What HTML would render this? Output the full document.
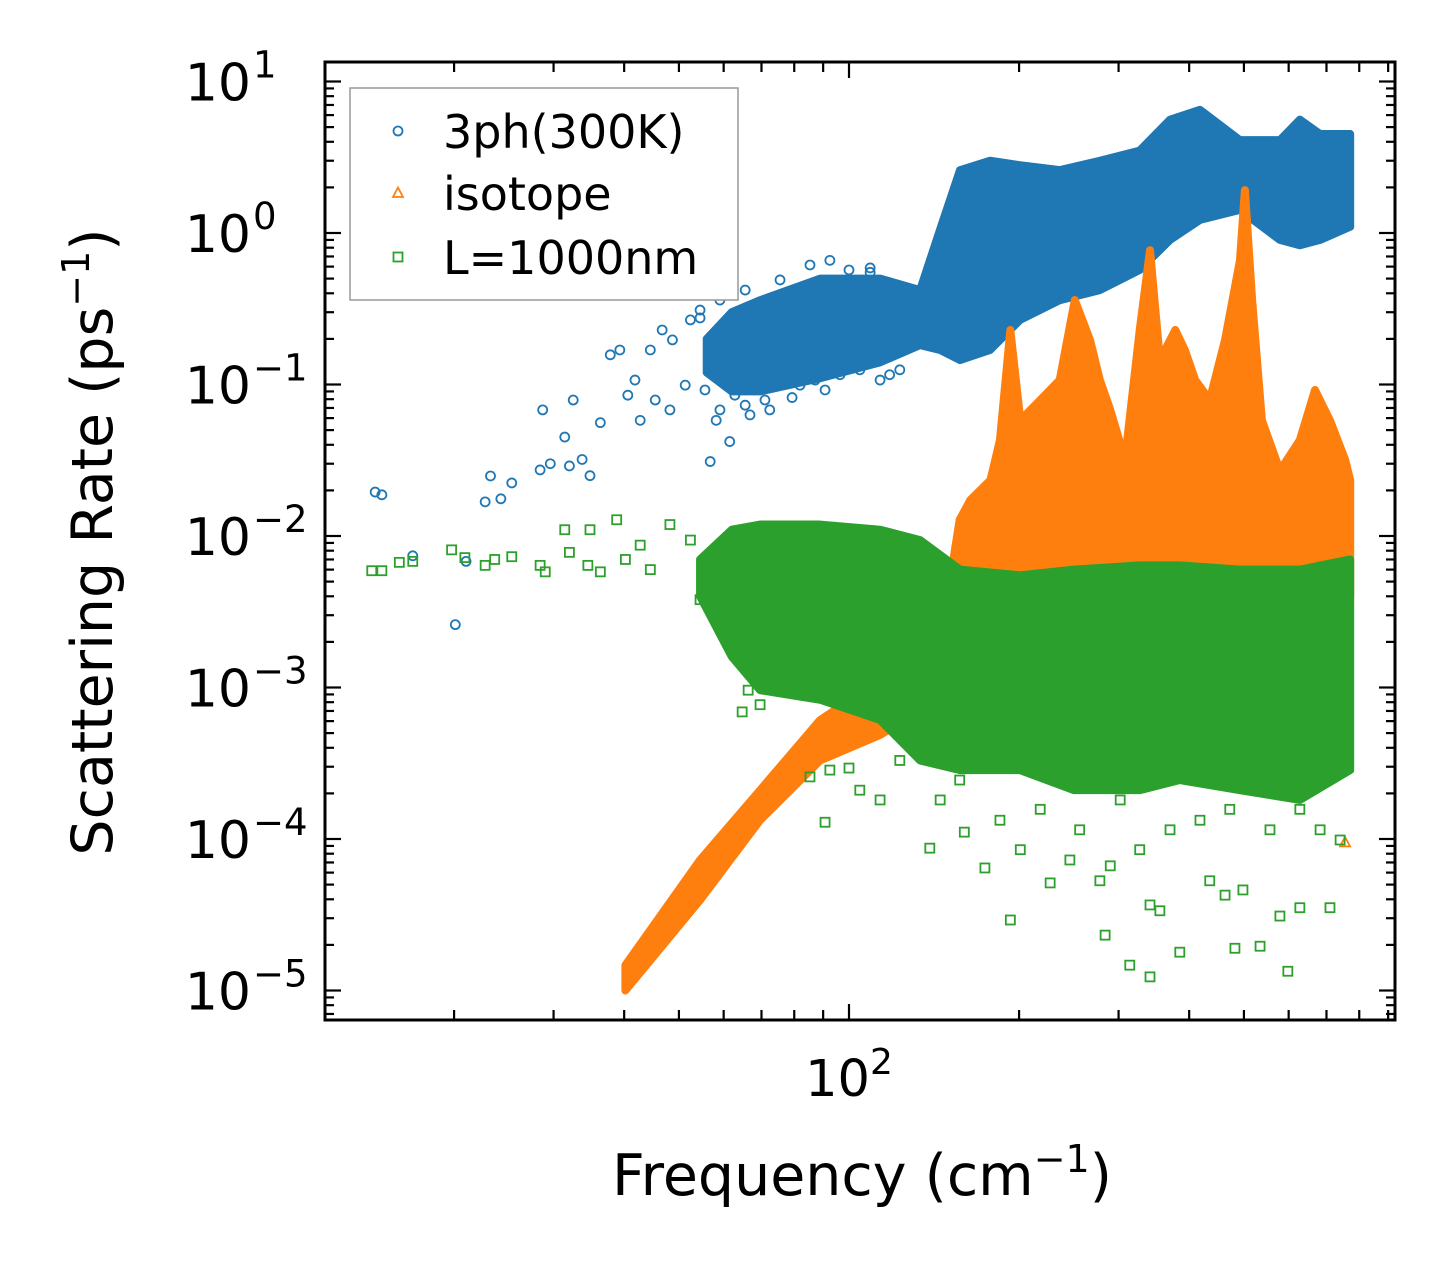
<!DOCTYPE html>
<html><head><meta charset="utf-8"><style>
html,body{margin:0;padding:0;background:#fff;}
svg{display:block;font-family:"DejaVu Sans","Liberation Sans",sans-serif;}
</style></head><body>
<svg id="chart" width="1455" height="1269" viewBox="0 0 1455 1269" xmlns="http://www.w3.org/2000/svg">
<g id="bands"></g>
<g id="marks"></g>
<g id="axes"></g>
<g id="legend"></g>
<text x="862" y="1195" font-size="57" text-anchor="middle">Frequency (cm<tspan dy="-23" font-size="38">−1</tspan><tspan dy="23">)</tspan></text>
<text transform="translate(112,542) rotate(-90)" font-size="57" text-anchor="middle">Scattering Rate (ps<tspan dy="-23" font-size="38">−1</tspan><tspan dy="23">)</tspan></text>
</svg>
<script>
// ---- data ----
const blueF=[14.5,14.9,16.9,20.1,21.0,22.7,23.2,24.2,25.3,28.4,28.7,29.6,31.4,32.5,32.0,33.7,34.8,36.3,37.8,39.3,40.6,41.8,42.7,44.5,45.4,46.7,48.2,48.7,51.3,52.4,54.5,56.8,58.2,61.5,65.5,72.4,79.3,90.7,100,109,118,55.6,59.1,62.8,66.8,71.0,75.5,81.9,87.1,96.4,104.5,113.5,123,54.5,59.1,65.5,75.5,85.3,92.5,100,109];
const blueR=[0.0195,0.0187,0.0074,0.0026,0.0068,0.0168,0.0249,0.0176,0.0224,0.0273,0.068,0.030,0.045,0.079,0.029,0.032,0.025,0.056,0.157,0.169,0.085,0.107,0.058,0.169,0.079,0.229,0.068,0.197,0.099,0.267,0.275,0.031,0.058,0.042,0.073,0.068,0.082,0.092,0.45,0.55,0.116,0.092,0.068,0.085,0.063,0.079,0.107,0.099,0.107,0.116,0.125,0.107,0.125,0.31,0.361,0.42,0.49,0.615,0.66,0.57,0.588];
const blueBandF=[56,62,69.6,88.9,113.5,133.6,144.9,157.2,177.7,200.8,236,278,327,370,418,492,579,628,682,771];
const blueBandHi=[0.2,0.3,0.36,0.5,0.5,0.42,1.05,2.6,3.0,2.8,2.6,3.0,3.5,5.6,6.5,4.1,4.1,5.6,4.5,4.5];
const blueBandLo=[0.12,0.09,0.09,0.11,0.14,0.182,0.169,0.145,0.169,0.267,0.36,0.42,0.57,0.9,1.22,1.42,0.9,0.83,0.9,1.1];

const orangeF=[755];
const orangeR=[0.000095];
const orangeRiseF=[40.2,54.5,69.6,88.9,113.5,125.6];
const orangeRiseHi=[1.47e-5,7.27e-5,2.1e-4,6.1e-4,1.12e-3,1.77e-3];
const orangeRiseLo=[1.0e-5,3.95e-5,1.33e-4,3.3e-4,4.86e-4,6.1e-4];
const orangeBandF=[151,157,164,178,185,193,201,218,236,251,267,278,290,308,327,341,355,378,393,410,435,463,492,502,517,538,579,628,668,710,755,771];
const orangeBandHi=[0.0051,0.0128,0.0173,0.0234,0.043,0.229,0.058,0.079,0.107,0.361,0.197,0.107,0.068,0.032,0.229,0.77,0.145,0.229,0.169,0.107,0.079,0.197,0.66,1.92,0.361,0.058,0.027,0.043,0.092,0.058,0.032,0.0234];
const orangeBandLo=0.004;

const greenF=[14.3,14.9,16.0,16.9,19.8,20.9,22.7,23.6,25.3,28.4,29.0,31.4,32.0,34.5,34.8,36.3,38.8,40.2,42.7,44.5,48.2,52.4,54.5,64.7,69.6,66.3,85.3,100,90.7,113.5,139,145,160,174,193,201,227,246,278,290,284,314,341,355,341,385,435,463,534,579,598,628,710,740,498,482,92.5,104.5,123,157,185,218,256,302,327,370,418,472,556,628,682];
const greenR=[0.0059,0.0059,0.0067,0.0068,0.0081,0.0072,0.0064,0.0070,0.0073,0.0064,0.0058,0.011,0.0078,0.0064,0.011,0.0058,0.0128,0.0070,0.0087,0.0060,0.0119,0.0094,0.0038,0.00069,0.00077,0.00096,0.000257,0.000294,0.000129,0.000181,0.000087,0.000181,0.000111,0.0000644,0.0000292,0.000085,0.0000513,0.0000727,0.000053,0.0000665,0.0000232,0.0000147,0.0000367,0.0000336,0.0000123,0.0000179,0.000053,0.0000426,0.0000196,0.000031,0.0000134,0.0000352,0.0000352,0.0000985,0.0000461,0.000019,0.000285,0.00021,0.00033,0.000245,0.000133,0.000157,0.000115,0.000181,0.000085,0.000115,0.000133,0.000157,0.000115,0.000157,0.000115];
const greenBandF=[54.5,62,69.6,88.9,113.5,133.6,157.2,200.8,250,327,385,492,628,771];
const greenBandHi=[0.007,0.011,0.0119,0.0119,0.011,0.0094,0.006,0.0055,0.006,0.0064,0.0064,0.006,0.006,0.007];
const greenBandLo=[0.004,0.0016,0.00096,0.00083,0.00061,0.00033,0.000285,0.000285,0.00021,0.00021,0.000245,0.00021,0.000181,0.000285];

const xTickLabels=["10","2"];
const yExps=[1,0,-1,-2,-3,-4,-5];

// ---- axes functions ----
const X0=325,X1=1395,Y0=62,Y1=1020;
const xDec=565, yDec=151.5;
function xs(f){return 849+xDec*(Math.log10(f)-2);}
function ys(r){return 233-yDec*Math.log10(r);}
const NS="http://www.w3.org/2000/svg";
function mk(tag,attrs,parent){const e=document.createElementNS(NS,tag);for(const k in attrs)e.setAttribute(k,attrs[k]);parent.appendChild(e);return e;}
const C={b:"#1f77b4",o:"#ff7f0e",g:"#2ca02c"};
const bands=document.getElementById('bands'),marks=document.getElementById('marks'),axes=document.getElementById('axes'),legend=document.getElementById('legend');

function band(F,hi,lo,color,name){
  const up=F.map((f,i)=>xs(f)+","+ys(hi[i]));
  const dn=F.map((f,i)=>xs(f)+","+ys(Array.isArray(lo)?lo[i]:lo)).reverse();
  const p=mk('polygon',{points:up.concat(dn).join(" "),fill:color,stroke:color,'stroke-width':8,'stroke-linejoin':'round'},bands);
  
  
}
function circle(x,y,c,parent){const e=mk('circle',{cx:x,cy:y,r:4.5,fill:'none',stroke:c,'stroke-width':1.8},parent);
}
function tri(x,y,c,parent){const e=mk('polygon',{points:`${x},${y-5.5} ${x-5},${y+4} ${x+5},${y+4}`,fill:'none',stroke:c,'stroke-width':1.8},parent);
}
function sq(x,y,c,parent){const e=mk('rect',{x:x-4.5,y:y-4.5,width:9,height:9,fill:'none',stroke:c,'stroke-width':1.8},parent);
}

band(blueBandF,blueBandHi,blueBandLo,C.b,'band-3ph');
blueF.forEach((f,i)=>circle(xs(f),ys(blueR[i]),C.b,marks));
band(orangeBandF,orangeBandHi,orangeBandLo,C.o,'band-isotope');
band(orangeRiseF,orangeRiseHi,orangeRiseLo,C.o,'band-isotope-rise');
orangeF.forEach((f,i)=>tri(xs(f),ys(orangeR[i]),C.o,marks));
band(greenBandF,greenBandHi,greenBandLo,C.g,'band-boundary');
greenF.forEach((f,i)=>sq(xs(f),ys(greenR[i]),C.g,marks));

// frame
const fr=mk('rect',{x:X0,y:Y0,width:X1-X0,height:Y1-Y0,fill:'none',stroke:'#000','stroke-width':3},axes);


function tk(x1,y1,x2,y2){mk('line',{x1,y1,x2,y2,stroke:'#000','stroke-width':2.2},axes);}
// x ticks
[1,2].forEach(d=>{for(let m=1;m<10;m++){const f=m*Math.pow(10,d);const x=xs(f);if(x<X0||x>X1)continue;const L=m===1?16:10;tk(x,Y1,x,Y1-L);tk(x,Y0,x,Y0+L);}});
const xl=mk('text',{x:849,y:1096,'font-size':51,'text-anchor':'middle'},axes);


xl.innerHTML=xTickLabels[0]+'<tspan dy="-22" font-size="36">'+xTickLabels[1]+'</tspan>';
// y ticks
for(let d=-6;d<=1;d++){for(let m=1;m<10;m++){const r=m*Math.pow(10,d);const y=ys(r);if(y<Y0||y>Y1)continue;const L=m===1?16:9;tk(X0,y,X0+L,y);tk(X1,y,X1-L,y);}}
yExps.forEach(e=>{
  const t=mk('text',{x:251,y:ys(Math.pow(10,e))+19,'font-size':52,'text-anchor':'end'},axes);
  
  
  t.innerHTML='10';
  const s=mk('text',{x:253,y:ys(Math.pow(10,e))-4,'font-size':37,'text-anchor':'start'},axes);
  
  
  s.textContent=(e<0?'−':'')+Math.abs(e);
});
// legend
const lb=mk('rect',{x:350,y:88,width:388,height:212,fill:'#fff',stroke:'#999','stroke-width':1.5},legend);


const labels=["3ph(300K)","isotope","L=1000nm"],ly=[131,193,257],fns=[circle,tri,sq],cols=[C.b,C.o,C.g];
labels.forEach((l,i)=>{
  fns[i](398,ly[i],cols[i],legend);
  const t=mk('text',{x:443,y:ly[i]+17,'font-size':46},legend);
  
  
  t.textContent=l;
});
</script>
</body></html>
